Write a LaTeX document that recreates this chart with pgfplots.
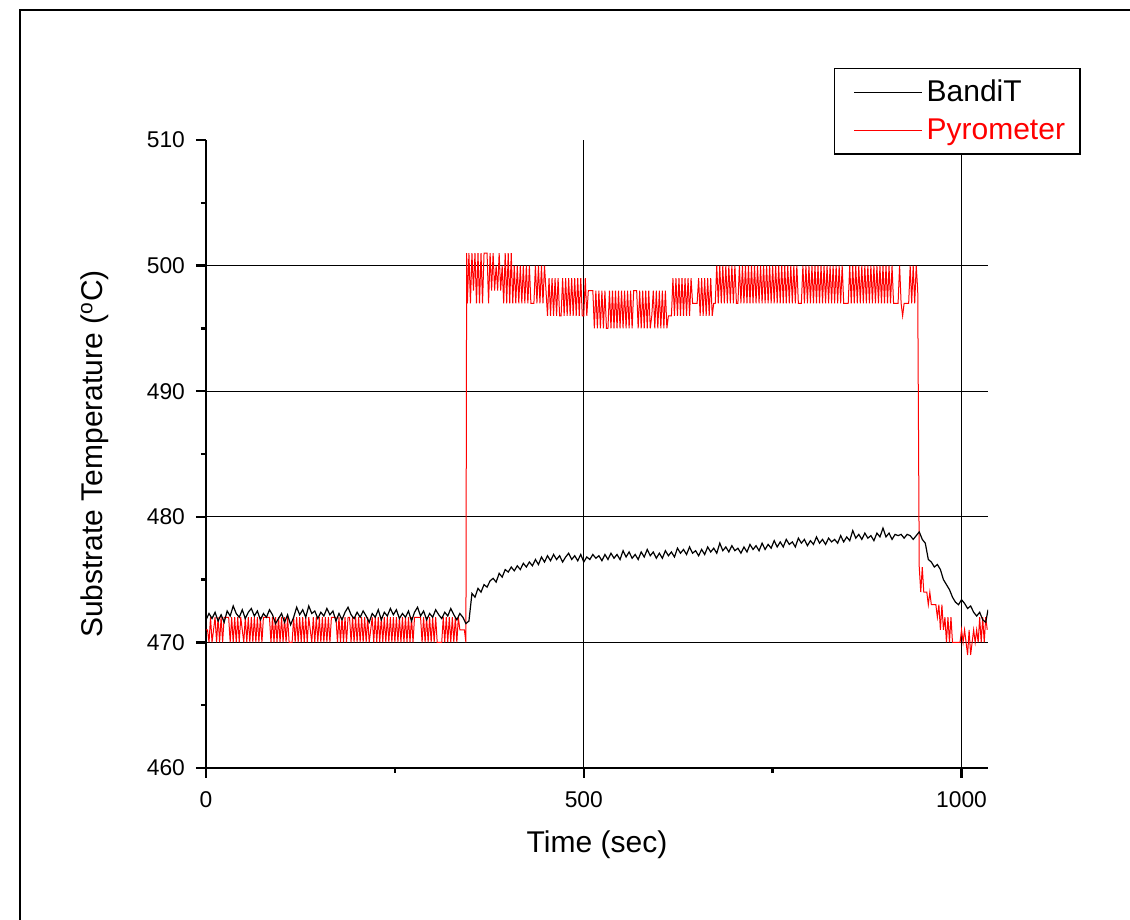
\documentclass[border=0pt]{standalone}
\usepackage{pgfplots}
\pgfplotsset{compat=1.18}
\usepackage{fontspec}
\setmainfont{Liberation Sans}
\begin{document}
\begin{tikzpicture}
\useasboundingbox (-103pt,-76pt) rectangle (462pt,384pt);
\draw[line width=1.3pt] (-93pt,-90pt) -- (-93pt,379pt) -- (480pt,379pt);
\begin{axis}[
  at={(0pt,0pt)}, anchor=south west,
  width=391pt, height=314pt, scale only axis,
  xmin=0, xmax=1035, ymin=460, ymax=510,
  axis x line*=bottom, axis y line*=left,
  axis line style={line width=1.2pt},
  xtick={0,500,1000}, minor xtick={250,750},
  ytick={460,470,...,510}, minor ytick={465,475,...,505},
  tick align=outside,
  major tick length=5pt, minor tick length=2.5pt,
  every tick/.style={black, line width=1.2pt},
  extra x ticks={500,1000}, extra x tick labels={},
  extra x tick style={grid=major, major tick length=0pt},
  extra y ticks={470,480,490,500}, extra y tick labels={},
  extra y tick style={grid=major, major tick length=0pt},
  major grid style={black, line width=0.5pt},
  every tick label/.append style={font=\fontsize{11.4}{13}\selectfont},
  xticklabel style={yshift=-3.5pt},
  yticklabel style={xshift=-2pt},
  /pgf/number format/assume math mode=true,
  /pgf/number format/1000 sep={},
  xlabel={Time (sec)},
  ylabel={Substrate Temperature (\textsuperscript{o}C)},
  xlabel style={at={(axis description cs:0.5,-0.1226)}, anchor=center, font=\fontsize{15}{18}\selectfont},
  ylabel style={at={(axis description cs:-0.142,0.5)}, anchor=center, font=\fontsize{15}{18}\selectfont},
  legend style={at={(axis description cs:0.803,1.1146)}, anchor=north west,
    draw=black, line width=0.6pt, font=\fontsize{15}{18}\selectfont,
    inner xsep=3pt, inner ysep=3.75pt, row sep=3pt, cells={anchor=west}},
  legend image code/.code={\path (0pt,0pt); \draw[#1, line width=0.5pt] (6.5pt,0pt) -- (40.5pt,0pt);},
  reverse legend,
]
% Pyrometer
\addplot[red, line width=0.5pt, mark=none] coordinates {
(0,471) (2,471) (4,470) (6,472) (8,470) (10,471) (12,472) (14,470) (16,472) (18,470)
(20,472) (22,470) (24,472) (26,472) (28,472) (30,472) (32,470) (34,472) (36,470) (38,472)
(40,470) (42,472) (44,470) (46,472) (48,471) (50,470) (52,472) (54,470) (56,472) (58,470)
(60,472) (62,470) (64,472) (66,470) (68,472) (70,470) (72,472) (74,470) (76,472) (78,472)
(80,472) (82,472) (84,472) (86,470) (88,472) (90,470) (92,472) (94,470) (96,472) (98,470)
(100,472) (102,470) (104,472) (106,470) (108,472) (110,470) (112,470) (114,470) (116,472) (118,470)
(120,472) (122,470) (124,472) (126,470) (128,472) (130,470) (132,472) (134,470) (136,472) (138,471)
(140,470) (142,472) (144,470) (146,472) (148,470) (150,472) (152,470) (154,472) (156,470) (158,472)
(160,470) (162,472) (164,470) (166,472) (168,472) (170,472) (172,472) (174,470) (176,472) (178,470)
(180,472) (182,470) (184,472) (186,470) (188,472) (190,472) (192,470) (194,472) (196,470) (198,472)
(200,470) (202,472) (204,470) (206,472) (208,470) (210,472) (212,470) (214,472) (216,470) (218,471)
(220,472) (222,470) (224,472) (226,470) (228,472) (230,470) (232,472) (234,470) (236,472) (238,470)
(240,472) (242,470) (244,472) (246,470) (248,472) (250,470) (252,472) (254,470) (256,472) (258,470)
(260,472) (262,470) (264,472) (266,470) (268,472) (270,470) (272,472) (274,470) (276,472) (278,472)
(280,472) (282,472) (284,472) (286,470) (288,472) (290,470) (292,472) (294,470) (296,472) (298,470)
(300,472) (302,470) (304,472) (306,470) (308,470) (310,470) (312,470) (314,472) (316,470) (318,472)
(320,470) (322,472) (324,470) (326,472) (328,470) (330,472) (332,470) (334,472) (336,471) (338,471)
(340,471) (342,471) (344,470) (345,501)
(346,497) (348,501) (350,497) (352,501) (354,498) (356,501) (358,497) (360,501) (362,497) (364,501)
(366,497) (368,501) (370,501) (372,501) (374,497) (376,501) (378,498) (380,501) (382,498) (384,500)
(386,498) (388,501) (390,498) (392,500) (394,497) (396,501) (398,497) (400,501) (402,497) (404,501)
(406,497) (408,500)
(410,497) (412,500) (414,497) (416,500) (418,497) (420,500) (422,497) (424,500) (426,497) (428,500)
(430,497) (432,497) (434,497) (436,500) (438,497) (440,500) (442,497) (444,500) (446,497) (448,500)
(450,498)
(452,496) (454,499) (456,496) (458,499) (460,496) (462,499) (464,496) (466,499) (468,496) (470,496)
(472,499) (474,496) (476,499) (478,496) (480,499) (482,496) (484,499) (486,496) (488,499) (490,496)
(492,499) (494,496) (496,499) (498,496) (500,496) (502,499) (504,496)
(506,498) (508,498) (510,498) (512,498) (514,495) (516,498) (518,495) (520,498) (522,495) (524,498)
(526,495) (528,498) (530,495) (532,495) (534,498) (536,495) (538,498) (540,495) (542,498) (544,495)
(546,498) (548,495) (550,498) (552,495) (554,498) (556,495) (558,498) (560,495) (562,498) (564,495)
(566,498) (568,498) (570,498) (572,495) (574,498) (576,495) (578,498) (580,495) (582,498) (584,495)
(586,498) (588,495) (590,496) (592,498) (594,495) (596,498) (598,495) (600,498) (602,495) (604,498)
(606,495) (608,498) (610,495) (612,496) (614,496) (616,496) (618,499) (620,496)
(622,499) (624,496) (626,499) (628,496) (630,499) (632,496) (634,499) (636,496) (638,499) (640,496)
(642,499) (644,497) (646,497) (648,497) (650,497) (652,499) (654,496) (656,499) (658,496) (660,499)
(662,496) (664,499) (666,496) (668,499) (670,496) (672,497) (674,497) (676,500)
(678,497) (680,500) (682,497) (684,500) (686,497) (688,500) (690,497) (692,500) (694,497) (696,500)
(698,497) (700,500) (702,497) (704,497) (706,500) (708,497) (710,500) (712,497) (714,500) (716,497)
(718,500) (720,497) (722,500) (724,497) (726,500) (728,497) (730,500) (732,497) (734,500) (736,497)
(738,500) (740,497) (742,500) (744,497) (746,500) (748,497) (750,500) (752,497) (754,500) (756,497)
(758,500) (760,497) (762,500) (764,497) (766,500) (768,497) (770,500) (772,497) (774,500) (776,497)
(778,500) (780,497) (782,500) (784,497) (786,497) (788,497) (790,500) (792,497) (794,500) (796,497)
(798,500) (800,497) (802,500) (804,497) (806,500) (808,497) (810,500) (812,497) (814,500) (816,497)
(818,500) (820,497) (822,500) (824,497) (826,500) (828,497) (830,500) (832,497) (834,500) (836,497)
(838,500) (840,497) (842,500) (844,497) (846,497) (848,497) (850,497) (852,500) (854,497) (856,500)
(858,497) (860,500) (862,497) (864,500) (866,497) (868,500) (870,497) (872,500) (874,497) (876,500)
(878,497) (880,500) (882,497) (884,500) (886,497) (888,500) (890,497) (892,500) (894,497) (896,500)
(898,497) (900,500) (902,497) (904,500) (906,497) (908,500) (910,497) (912,497) (914,497) (916,497)
(918,500) (920,497) (922,496) (924,497) (926,497) (928,497) (930,497) (932,500) (934,497) (936,500)
(938,497) (940,500) (942,498)
(944,476) (946,474) (948,476) (950,474) (952,474) (954,474) (956,473) (958,474) (960,473) (962,473)
(964,473) (966,473) (968,472) (970,473) (972,471) (974,473) (976,471) (978,472) (980,470) (982,472)
(984,470) (986,472) (988,470) (990,470) (992,470) (994,470) (996,470) (998,470) (1000,471) (1002,470)
(1004,471) (1006,470) (1008,469) (1010,471) (1012,469) (1014,470) (1016,471) (1018,470) (1020,471) (1022,470)
(1024,472) (1026,470) (1028,472) (1030,470) (1032,472) (1034,471)
};
\addlegendentry{\textcolor{red}{Pyrometer}\hspace*{2.5pt}}
% BandiT
\addplot[black, line width=0.6pt, mark=none] coordinates {
(0,471.8) (4,472.3) (8,471.9) (12,472.4) (16,471.7) (20,472.2) (24,471.6) (28,472.5) (32,472.1) (36,472.9)
(40,472.3) (44,472.0) (48,472.6) (52,471.9) (56,472.4) (60,472.7) (64,472.1) (68,472.5) (72,471.8) (76,472.3)
(80,472.0) (84,472.6) (88,472.2) (92,471.5) (96,471.9) (100,472.3) (104,471.6) (108,472.2) (112,471.4) (116,472.0)
(120,472.8) (124,472.2) (128,472.6) (132,472.0) (136,472.9) (140,472.3) (144,472.5) (148,471.9) (152,472.4) (156,472.1)
(160,472.7) (164,472.2) (168,472.5) (172,471.7) (176,472.3) (180,471.8) (184,472.4) (188,472.8) (192,472.2) (196,471.9)
(200,472.4) (204,472.0) (208,472.5) (212,472.1) (216,471.6) (220,472.3) (224,472.0) (228,472.6) (232,471.8) (236,472.4)
(240,472.1) (244,472.7) (248,472.2) (252,472.6) (256,471.9) (260,472.3) (264,472.0) (268,472.5) (272,471.7) (276,472.4)
(280,472.8) (284,472.1) (288,472.5) (292,471.8) (296,472.3) (300,472.0) (304,472.6) (308,472.2) (312,471.9) (316,472.4)
(320,472.1) (324,472.7) (328,472.2) (332,471.8) (336,472.3) (340,472.0) (344,471.5) (348,471.7) (352,473.9) (356,473.6)
(360,474.3) (364,474.0) (368,474.6) (372,474.4) (376,474.9) (380,475.1) (384,474.8) (388,475.5) (392,475.2) (396,475.8)
(400,475.6) (404,476.0) (408,475.7) (412,476.1) (416,475.8) (420,476.3) (424,476.0) (428,476.4) (432,476.1) (436,476.6)
(440,476.2) (444,476.8) (448,476.4) (452,476.9) (456,476.5) (460,477.0) (464,476.6) (468,476.9) (472,476.4) (476,476.8)
(480,477.1) (484,476.6) (488,476.9) (492,476.5) (496,477.0) (500,476.4) (504,476.8) (508,476.6) (512,477.0) (516,476.7)
(520,476.9) (524,476.5) (528,477.0) (532,476.6) (536,477.1) (540,476.7) (544,477.0) (548,476.6) (552,477.3) (556,476.8)
(560,477.2) (564,476.7) (568,477.0) (572,476.6) (576,477.2) (580,476.8) (584,477.4) (588,476.9) (592,477.2) (596,476.7)
(600,477.1) (604,476.7) (608,477.3) (612,476.9) (616,477.2) (620,476.8) (624,477.5) (628,477.1) (632,477.4) (636,477.0)
(640,477.6) (644,477.1) (648,477.3) (652,476.9) (656,477.4) (660,477.0) (664,477.6) (668,477.2) (672,477.5) (676,477.1)
(680,477.9) (684,477.3) (688,477.6) (692,477.2) (696,477.7) (700,477.3) (704,477.5) (708,477.1) (712,477.6) (716,477.2)
(720,477.8) (724,477.4) (728,477.7) (732,477.3) (736,477.9) (740,477.4) (744,477.8) (748,477.5) (752,478.1) (756,477.6)
(760,478.0) (764,477.6) (768,478.2) (772,477.8) (776,478.0) (780,477.6) (784,478.3) (788,477.9) (792,478.2) (796,477.7)
(800,478.1) (804,477.8) (808,478.4) (812,477.9) (816,478.2) (820,477.8) (824,478.3) (828,478.0) (832,478.2) (836,477.9)
(840,478.5) (844,478.0) (848,478.4) (852,478.1) (856,478.9) (860,478.3) (864,478.6) (868,478.2) (872,478.7) (876,478.3)
(880,478.5) (884,478.1) (888,478.7) (892,478.4) (896,479.1) (900,478.4) (904,478.7) (908,478.2) (912,478.6) (916,478.5)
(920,478.6) (924,478.3) (928,478.6) (932,478.5) (936,478.2) (940,478.5) (944,478.8) (948,478.2) (952,477.9) (956,476.6)
(960,476.4) (964,476.0) (968,476.2) (972,475.8) (976,475.0) (980,474.6) (984,474.2) (988,473.6) (992,473.2) (996,473.0)
(1000,473.4) (1004,473.1) (1008,472.7) (1012,472.9) (1016,472.4) (1020,472.1) (1024,472.4) (1028,471.8) (1032,471.6) (1035,472.6)
};
\addlegendentry{BandiT}
\end{axis}
\end{tikzpicture}
\end{document}
